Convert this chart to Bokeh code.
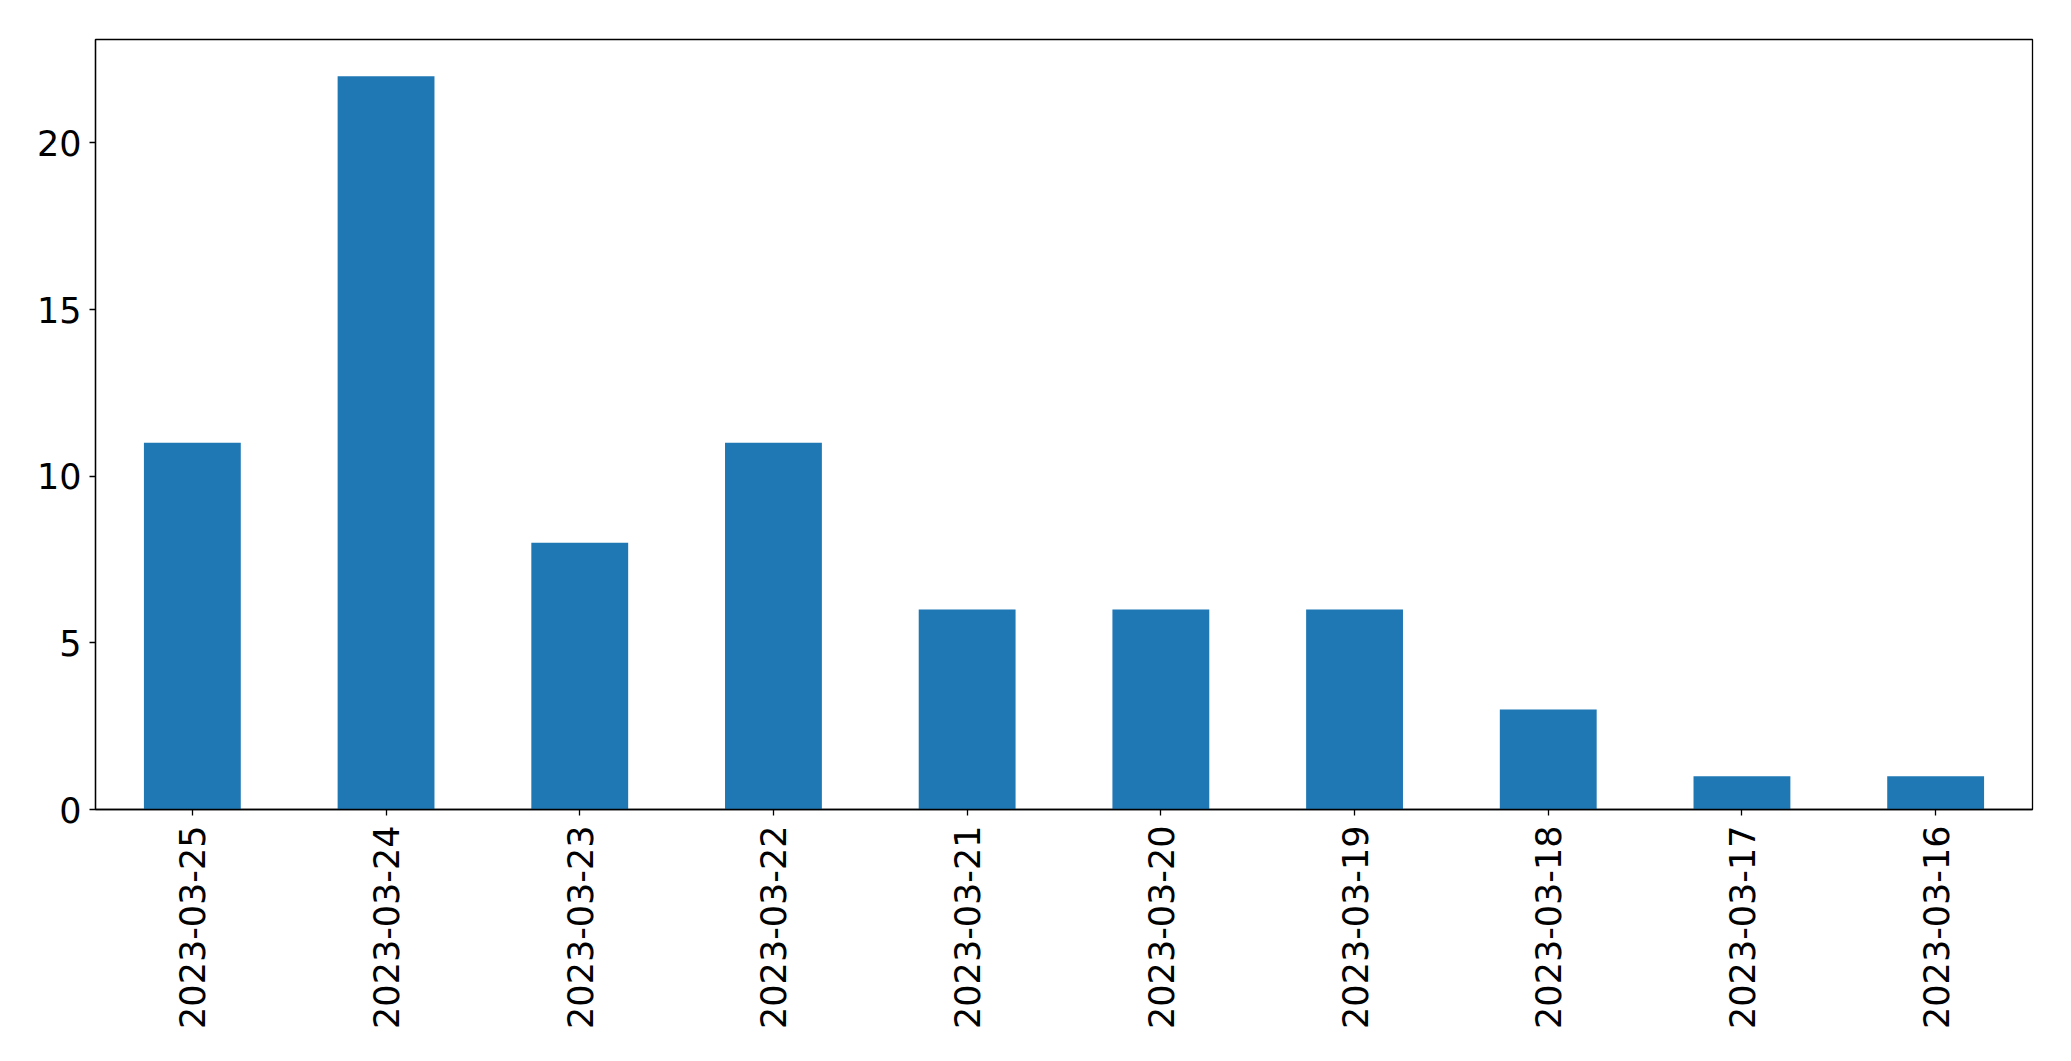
import math
from bokeh.plotting import figure
from bokeh.models import FactorRange, Range1d, FixedTicker, ColumnDataSource
from bokeh.embed import file_html
from bokeh.resources import INLINE

dates = ["2023-03-25", "2023-03-24", "2023-03-23", "2023-03-22", "2023-03-21",
         "2023-03-20", "2023-03-19", "2023-03-18", "2023-03-17", "2023-03-16"]
counts = [11, 22, 8, 11, 6, 6, 6, 3, 1, 1]
y_ticks = [0, 5, 10, 15, 20]

src = ColumnDataSource(dict(x=dates, top=counts))

p = figure(width=2071, height=1061, output_backend="svg", toolbar_location=None,
           x_range=FactorRange(factors=dates, range_padding=0),
           y_range=Range1d(0, max(counts) * 1.05))
p.min_border_left = 95
p.min_border_right = 39
p.min_border_top = 39
p.min_border_bottom = 252

p.vbar(x="x", top="top", width=0.5, source=src, color="#1f77b4", line_color=None)

p.xgrid.visible = False
p.ygrid.visible = False
p.outline_line_color = "black"
p.outline_line_width = 1.3
p.outline_line_alpha = 1

for ax in (p.xaxis[0], p.yaxis[0]):
    ax.major_label_text_font = "DejaVu Sans"
    ax.major_label_text_font_size = "35px"
    ax.major_label_text_color = "black"
    ax.axis_line_color = "black"
    ax.axis_line_width = 1.3
    ax.major_tick_line_color = "black"
    ax.major_tick_line_width = 1.3
    ax.major_tick_in = 0
    ax.major_tick_out = 6
    ax.minor_tick_line_color = None

p.yaxis.ticker = FixedTicker(ticks=y_ticks)
p.yaxis.major_label_standoff = 8
p.xaxis.major_label_orientation = math.pi / 2
p.xaxis.major_label_standoff = 10

open("out.html", "w").write(file_html(p, INLINE))
